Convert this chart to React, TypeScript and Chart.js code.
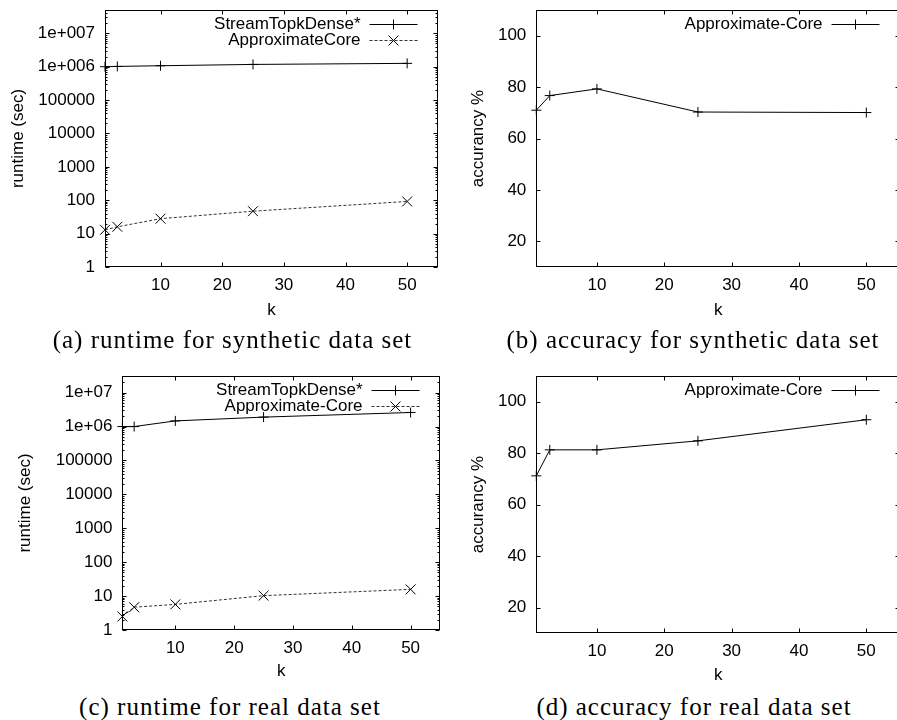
import React, { useEffect, useRef } from "react";
import { Chart, registerables } from "chart.js";

Chart.register(...registerables);

// ---------- data ----------
const kValues = [1, 3, 10, 25, 50];

const syntheticStreamRuntime = [1.0e6, 1.02e6, 1.07e6, 1.17e6, 1.26e6];
const syntheticApproxRuntime = [13, 16, 28, 47, 92];
const syntheticApproxAccuracy = [71.0, 76.7, 79.3, 70.3, 70.1];

const realStreamRuntime = [1.0e6, 1.0e6, 1.47e6, 1.9e6, 2.6e6];
const realApproxRuntime = [2.5, 4.7, 5.7, 10.3, 15.8];
const realApproxAccuracy = [71.2, 81.3, 81.3, 84.8, 93.0];

const kTicks = [10, 20, 30, 40, 50];
const kTickLabels = ["10", "20", "30", "40", "50"];
const runtimeTicks = [1, 10, 100, 1000, 10000, 100000, 1e6, 1e7];
const runtimeLabelsSynthetic = ["1", "10", "100", "1000", "10000", "100000", "1e+006", "1e+007"];
const runtimeLabelsReal = ["1", "10", "100", "1000", "10000", "100000", "1e+06", "1e+07"];
const accuracyTicks = [20, 40, 60, 80, 100];
const accuracyLabels = ["20", "40", "60", "80", "100"];

const captionA = "(a) runtime for synthetic data set";
const captionB = "(b) accuracy for synthetic data set";
const captionC = "(c) runtime for real data set";
const captionD = "(d) accuracy for real data set";

// ---------- styling / layout ----------
const SANS = "'Liberation Sans', Arial, Helvetica, sans-serif";
const SERIF = "'Liberation Serif', 'Times New Roman', serif";
const FONT_SIZE = 17;
const HALF_LINE = (FONT_SIZE * 1.2) / 2;

type Series = { label: string; values: number[]; dashed: boolean; marker: "cross" | "crossRot" };
type PanelSpec = {
  canvasLeft: number; canvasTop: number; canvasWidth: number; canvasHeight: number; clipWidth: number;
  plotLeft: number; plotRight: number; plotTop: number; plotBottom: number;
  yTitleX: number; xTitleY: number;
  yType: "logarithmic" | "linear"; yMin: number; yMax: number;
  yTicks: number[]; yLabels: string[]; yTitle: string;
  series: Series[];
};

const panels: PanelSpec[] = [
  {
    canvasLeft: 0, canvasTop: 0, canvasWidth: 448, canvasHeight: 325, clipWidth: 448,
    plotLeft: 105, plotRight: 438, plotTop: 10, plotBottom: 267,
    yTitleX: 18.5, xTitleY: 310,
    yType: "logarithmic", yMin: 1, yMax: 5e7,
    yTicks: runtimeTicks, yLabels: runtimeLabelsSynthetic, yTitle: "runtime (sec)",
    series: [
      { label: "StreamTopkDense*", values: syntheticStreamRuntime, dashed: false, marker: "cross" },
      { label: "ApproximateCore", values: syntheticApproxRuntime, dashed: true, marker: "crossRot" },
    ],
  },
  {
    canvasLeft: 450, canvasTop: 0, canvasWidth: 456, canvasHeight: 325, clipWidth: 447,
    plotLeft: 536.3, plotRight: 900.4, plotTop: 10, plotBottom: 267,
    yTitleX: 478.3, xTitleY: 310,
    yType: "linear", yMin: 10, yMax: 110,
    yTicks: accuracyTicks, yLabels: accuracyLabels, yTitle: "accurancy %",
    series: [
      { label: "Approximate-Core", values: syntheticApproxAccuracy, dashed: false, marker: "cross" },
    ],
  },
  {
    canvasLeft: 0, canvasTop: 360, canvasWidth: 448, canvasHeight: 325, clipWidth: 448,
    plotLeft: 122.4, plotRight: 442, plotTop: 376, plotBottom: 630,
    yTitleX: 25, xTitleY: 671.7,
    yType: "logarithmic", yMin: 1, yMax: 3.1e7,
    yTicks: runtimeTicks, yLabels: runtimeLabelsReal, yTitle: "runtime (sec)",
    series: [
      { label: "StreamTopkDense*", values: realStreamRuntime, dashed: false, marker: "cross" },
      { label: "Approximate-Core", values: realApproxRuntime, dashed: true, marker: "crossRot" },
    ],
  },
  {
    canvasLeft: 450, canvasTop: 360, canvasWidth: 456, canvasHeight: 325, clipWidth: 447,
    plotLeft: 536.3, plotRight: 900.4, plotTop: 376, plotBottom: 633.3,
    yTitleX: 478.3, xTitleY: 675,
    yType: "linear", yMin: 10, yMax: 110,
    yTicks: accuracyTicks, yLabels: accuracyLabels, yTitle: "accurancy %",
    series: [
      { label: "Approximate-Core", values: realApproxAccuracy, dashed: false, marker: "cross" },
    ],
  },
];

const captions = [
  { text: captionA, cx: 232.5, cy: 340 },
  { text: captionB, cx: 693, cy: 340 },
  { text: captionC, cx: 230, cy: 707 },
  { text: captionD, cx: 694, cy: 707 },
];

function drawMarker(ctx: CanvasRenderingContext2D, style: string, x: number, y: number, r: number) {
  ctx.beginPath();
  if (style === "cross") {
    ctx.moveTo(x - r, y); ctx.lineTo(x + r, y);
    ctx.moveTo(x, y - r); ctx.lineTo(x, y + r);
  } else {
    const o = r * Math.SQRT1_2;
    ctx.moveTo(x - o, y - o); ctx.lineTo(x + o, y + o);
    ctx.moveTo(x - o, y + o); ctx.lineTo(x + o, y - o);
  }
  ctx.stroke();
}

const gnuplotFrame = {
  id: "gnuplotFrame",
  afterDraw(chart: any) {
    const ctx: CanvasRenderingContext2D = chart.ctx;
    const { left, right, top, bottom } = chart.chartArea;
    const xs = chart.scales.x;
    const ys = chart.scales.y;
    const L = Math.round(left) + 0.5, R = Math.round(right) - 0.5;
    const T = Math.round(top) + 0.5, B = Math.round(bottom) - 0.5;
    ctx.save();
    ctx.strokeStyle = "#000";
    ctx.lineWidth = 1;
    ctx.setLineDash([]);
    ctx.strokeRect(L, T, R - L, B - T);
    const major = 4, minor = 2;
    ctx.beginPath();
    for (const t of xs.ticks) {
      const px = Math.round(xs.getPixelForValue(t.value)) + 0.5;
      ctx.moveTo(px, B); ctx.lineTo(px, B - major);
      ctx.moveTo(px, T); ctx.lineTo(px, T + major);
    }
    for (const t of ys.ticks) {
      const py = Math.round(ys.getPixelForValue(t.value)) + 0.5;
      ctx.moveTo(L, py); ctx.lineTo(L + major, py);
      ctx.moveTo(R, py); ctx.lineTo(R - major, py);
    }
    if (ys.type === "logarithmic") {
      for (let d = ys.min; d < ys.max; d *= 10) {
        for (let m = 2; m <= 9; m++) {
          const v = d * m;
          if (v >= ys.max) break;
          const py = Math.round(ys.getPixelForValue(v)) + 0.5;
          ctx.moveTo(L, py); ctx.lineTo(L + minor, py);
          ctx.moveTo(R, py); ctx.lineTo(R - minor, py);
        }
      }
    }
    ctx.stroke();

    // legend (gnuplot style: top right, text right-aligned, sample after)
    const lineEnd = right - 20.5;
    const lineStart = lineEnd - 48;
    const textRight = lineStart - 9;
    ctx.font = `${FONT_SIZE}px ${SANS}`;
    ctx.textAlign = "right";
    ctx.textBaseline = "middle";
    chart.data.datasets.forEach((ds: any, i: number) => {
      const y = Math.round(top + 13.5 + i * 16.7) + 0.5;
      ctx.fillStyle = "#000";
      ctx.fillText(ds.label, textRight, y);
      ctx.strokeStyle = ds.borderColor;
      ctx.setLineDash(ds.borderDash || []);
      ctx.beginPath();
      ctx.moveTo(lineStart, y); ctx.lineTo(lineEnd, y);
      ctx.stroke();
      ctx.setLineDash([]);
      ctx.strokeStyle = "#000";
      drawMarker(ctx, ds.pointStyle, (lineStart + lineEnd) / 2, y, ds.pointRadius);
    });
    ctx.restore();
  },
};

function Panel({ spec }: { spec: PanelSpec }) {
  const ref = useRef<HTMLCanvasElement | null>(null);
  useEffect(() => {
    const canvas = ref.current;
    if (!canvas) return;
    const s = spec;
    const chart = new Chart(canvas, {
      type: "line",
      data: {
        datasets: s.series.map((ser) => ({
          label: ser.label,
          data: kValues.map((k, i) => ({ x: k, y: ser.values[i] })),
          borderColor: ser.dashed ? "#333" : "#000",
          borderWidth: 1,
          borderDash: ser.dashed ? [3, 2] : [],
          pointStyle: ser.marker,
          pointRadius: ser.marker === "cross" ? 5 : 7,
          pointHoverRadius: ser.marker === "cross" ? 5 : 7,
          pointBorderColor: "#000",
          pointBorderWidth: 1,
          pointBackgroundColor: "rgba(0,0,0,0)",
          fill: false,
          tension: 0,
          clip: false,
        })) as any,
      },
      options: {
        responsive: false,
        maintainAspectRatio: false,
        animation: false,
        events: [],
        layout: {
          padding: {
            left: 0,
            top: s.plotTop - s.canvasTop,
            right: s.canvasLeft + s.canvasWidth - s.plotRight,
            bottom: 0,
          },
        },
        plugins: {
          legend: { display: false },
          tooltip: { enabled: false },
          title: { display: false },
        },
        scales: {
          x: {
            type: "linear",
            min: 1,
            max: 55,
            grid: { display: false, drawTicks: false },
            border: { display: false },
            afterBuildTicks: (sc: any) => {
              sc.ticks = kTicks.map((v) => ({ value: v }));
            },
            afterFit: (sc: any) => {
              sc.height = s.canvasTop + s.canvasHeight - s.plotBottom;
              sc.paddingLeft = 0;
              sc.paddingRight = 0;
            },
            ticks: {
              padding: 8,
              color: "#000",
              font: { family: SANS, size: FONT_SIZE },
              maxRotation: 0,
              minRotation: 0,
              autoSkip: false,
              callback: (_v: any, i: number) => kTickLabels[i],
            },
            title: {
              display: true,
              text: "k",
              color: "#000",
              font: { family: SANS, size: FONT_SIZE },
              padding: { top: 0, bottom: s.canvasTop + s.canvasHeight - s.xTitleY - HALF_LINE },
            },
          },
          y: {
            type: s.yType,
            min: s.yMin,
            max: s.yMax,
            grid: { display: false, drawTicks: false },
            border: { display: false },
            afterBuildTicks: (sc: any) => {
              sc.ticks = s.yTicks.map((v) => ({ value: v }));
            },
            afterFit: (sc: any) => {
              sc.width = s.plotLeft - s.canvasLeft;
              sc.paddingTop = 0;
              sc.paddingBottom = 0;
            },
            ticks: {
              padding: 10,
              color: "#000",
              font: { family: SANS, size: FONT_SIZE },
              autoSkip: false,
              callback: (_v: any, i: number) => s.yLabels[i],
            },
            title: {
              display: true,
              text: s.yTitle,
              color: "#000",
              font: { family: SANS, size: FONT_SIZE },
              padding: { top: s.yTitleX - s.canvasLeft - HALF_LINE, bottom: 0 },
            },
          },
        },
      } as any,
      plugins: [gnuplotFrame as any],
    });
    return () => chart.destroy();
  }, [spec]);

  return (
    <div
      style={{
        position: "absolute",
        left: spec.canvasLeft,
        top: spec.canvasTop,
        width: spec.clipWidth,
        height: spec.canvasHeight,
        overflow: "hidden",
      }}
    >
      <canvas
        ref={ref}
        width={spec.canvasWidth}
        height={spec.canvasHeight}
        style={{ display: "block", width: spec.canvasWidth, height: spec.canvasHeight }}
      />
    </div>
  );
}

export default function App() {
  return (
    <div
      style={{
        position: "absolute",
        left: 0,
        top: 0,
        width: 897,
        height: 720,
        background: "#fff",
        overflow: "hidden",
      }}
    >
      {panels.map((p, i) => (
        <Panel key={i} spec={p} />
      ))}
      {captions.map((c, i) => (
        <div
          key={"c" + i}
          style={{
            position: "absolute",
            left: c.cx - 250,
            top: c.cy - 16,
            width: 500,
            height: 32,
            lineHeight: "32px",
            textAlign: "center",
            fontFamily: SERIF,
            fontSize: 25,
            letterSpacing: "1px",
            color: "#000",
            whiteSpace: "nowrap",
          }}
        >
          {c.text}
        </div>
      ))}
    </div>
  );
}
